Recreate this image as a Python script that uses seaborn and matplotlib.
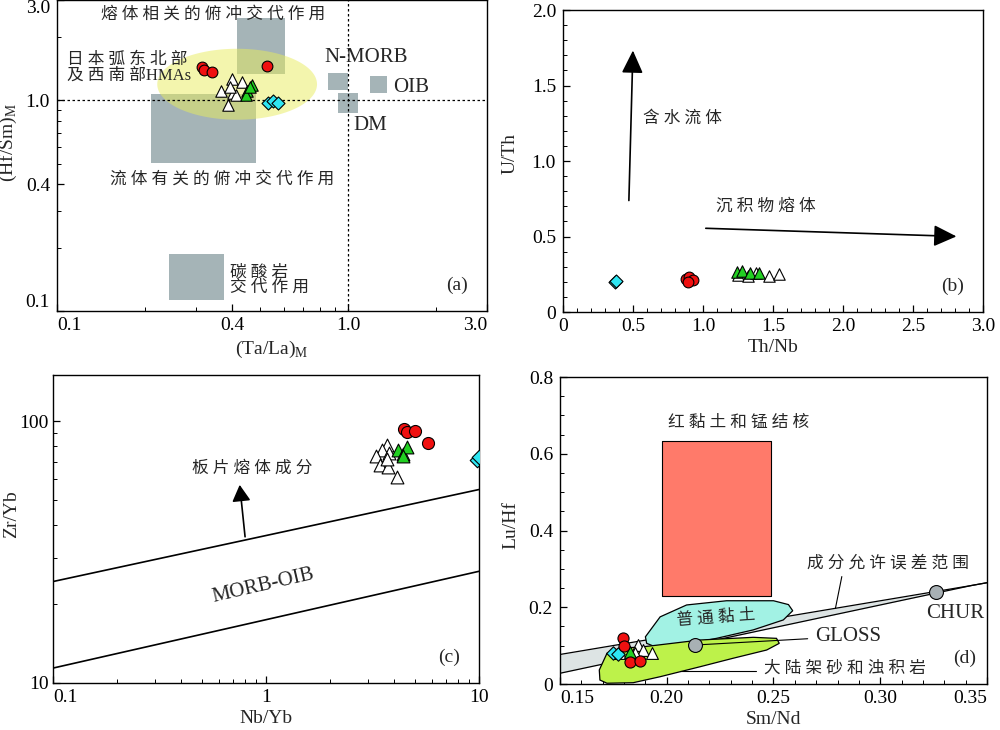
import numpy as np
import pandas as pd
import matplotlib
matplotlib.use('Agg')
import matplotlib.pyplot as plt
import seaborn as sns

sns.set_style('ticks')
plt.rcParams['font.family'] = ['Liberation Serif', 'Noto Sans CJK SC']
plt.rcParams['mathtext.fontset'] = 'custom'
plt.rcParams['mathtext.rm'] = 'Liberation Serif'
plt.rcParams['xtick.direction'] = 'in'
plt.rcParams['ytick.direction'] = 'in'
plt.rcParams['axes.edgecolor'] = 'black'
plt.rcParams['axes.linewidth'] = 1.0
plt.rcParams['xtick.color'] = 'black'
plt.rcParams['ytick.color'] = 'black'

# ---- sample groups (same in every panel)
groups = ['white', 'green', 'cyan', 'red']
markers = {'white': '^', 'green': '^', 'cyan': 'D', 'red': 'o'}
colors = {'white': 'white', 'green': '#22D022', 'cyan': '#2EE6F2', 'red': '#F01010'}
sizes = {'white': 85, 'green': 85, 'cyan': 55, 'red': 75}

# ---- (a) (Ta/La)M vs (Hf/Sm)M
a_red_x = [0.314, 0.320, 0.342, 0.526]
a_red_y = [1.44, 1.39, 1.36, 1.45]
a_white_x = [0.398, 0.431, 0.366, 0.403, 0.411, 0.386, 0.393]
a_white_y = [1.27, 1.23, 1.11, 1.09, 1.06, 0.95, 1.16]
a_green_x = [0.467, 0.449, 0.446, 0.460]
a_green_y = [1.18, 1.11, 1.06, 1.16]
a_cyan_x = [0.532, 0.552, 0.573]
a_cyan_y = [0.97, 0.99, 0.97]

# reference boxes: x0, x1, y0, y1
a_box_names = ['melt', 'fluid', 'carbonate', 'N-MORB', 'OIB', 'DM']
a_box_x0 = [0.415, 0.210, 0.242, 0.856, 1.19, 0.926]
a_box_x1 = [0.607, 0.482, 0.375, 1.00, 1.36, 1.085]
a_box_y0 = [1.33, 0.505, 0.113, 1.12, 1.08, 0.875]
a_box_y1 = [2.47, 1.07, 0.186, 1.35, 1.30, 1.08]

# HMAs field (ellipse in log space): x range, y range
hma_x = [0.221, 0.782]
hma_y = [0.81, 1.76]

# ---- (b) Th/Nb vs U/Th
b_red_x = [0.88, 0.90, 0.93, 0.89]
b_red_y = [0.22, 0.23, 0.21, 0.20]
b_white_x = [1.25, 1.32, 1.38, 1.47, 1.545]
b_white_y = [0.245, 0.24, 0.255, 0.24, 0.25]
b_green_x = [1.245, 1.28, 1.336, 1.40]
b_green_y = [0.265, 0.27, 0.26, 0.255]
b_cyan_x = [0.37, 0.38]
b_cyan_y = [0.20, 0.205]
b_fluid_arrow = [(0.47, 0.72), (0.50, 1.75)]
b_melt_arrow = [(1.0, 0.555), (2.83, 0.50)]

# ---- (c) Nb/Yb vs Zr/Yb
c_red_x = [4.45, 4.58, 5.01, 5.78]
c_red_y = [93.1, 91.0, 91.8, 82.8]
c_white_x = [3.69, 3.49, 3.28, 3.79, 3.43, 3.75, 4.11, 3.69]
c_white_y = [80.9, 77.6, 73.3, 75.3, 67.8, 67.0, 61.4, 71.5]
c_green_x = [4.18, 4.41, 4.60, 4.40]
c_green_y = [77.6, 74.8, 79.3, 73.6]
c_cyan_x = [9.75, 9.95]
c_cyan_y = [71.0, 72.8]
c_line_x = [0.1, 10]
c_upper_y = [24.4, 54.8]
c_lower_y = [11.4, 26.7]
c_arrow = [(0.80, 35.3), (0.75, 58.5)]

# ---- (d) Sm/Nd vs Lu/Hf
d_red_x = [0.1797, 0.180, 0.1828, 0.1875]
d_red_y = [0.119, 0.099, 0.058, 0.061]
d_white_x = [0.1867, 0.189, 0.193, 0.178, 0.185]
d_white_y = [0.1016, 0.0886, 0.080, 0.080, 0.080]
d_green_x = [0.1828]
d_green_y = [0.084]
d_cyan_x = [0.175, 0.1773]
d_cyan_y = [0.082, 0.078]

d_redclay = [0.198, 0.249, 0.229, 0.633]
d_band_x = [0.15, 0.343, 0.35]
d_band_upper = [0.077, 0.257, 0.264]
d_band_lower = [0.028, 0.257, 0.264]
d_clay_x = [0.190, 0.1969, 0.2093, 0.228, 0.250, 0.257, 0.259, 0.2546, 0.2405, 0.2233,
            0.2063, 0.1937, 0.1906]
d_clay_y = [0.123, 0.175, 0.206, 0.217, 0.217, 0.207, 0.191, 0.167, 0.141, 0.119,
            0.1016, 0.099, 0.106]
d_sand_x = [0.1687, 0.1684, 0.172, 0.178, 0.189, 0.2156, 0.2405, 0.2514, 0.2527, 0.2468,
            0.231, 0.2156, 0.1969, 0.1843, 0.172]
d_sand_y = [0.0104, 0.0365, 0.080, 0.093, 0.097, 0.1147, 0.1217, 0.119, 0.106, 0.0886,
            0.067, 0.045, 0.019, 0.0034, 0.002]
d_chur = (0.326, 0.239)
d_gloss = (0.2132, 0.1016)


def spaced(s):
    # the original sets Chinese labels with loose letter spacing
    out = ''
    for i, ch in enumerate(s):
        out += ch
        if i < len(s) - 1 and ord(ch) > 0x2e80 and ord(s[i + 1]) > 0x2e80:
            out += ' '
    return out


def make_df(data):
    rows = []
    for g, (xs, ys) in data.items():
        for x, y in zip(xs, ys):
            rows.append({'group': g, 'x': x, 'y': y})
    return pd.DataFrame(rows)


def draw_points(ax, df, scale=1.0):
    for i, g in enumerate(groups):
        sub = df[df.group == g]
        if len(sub) == 0:
            continue
        sns.scatterplot(data=sub, x='x', y='y', marker=markers[g], color=colors[g],
                        edgecolor='black', linewidth=0.8, s=sizes[g] * scale,
                        ax=ax, zorder=10 + i, legend=False)


def style_axes(ax):
    ax.tick_params(which='major', length=5, width=0.9, labelsize=14, top=False, right=False)
    ax.tick_params(axis='y', which='major', pad=5)
    ax.tick_params(axis='x', which='major', pad=4)
    ax.tick_params(which='minor', length=3, width=0.7)
    for s in ax.spines.values():
        s.set_visible(True)
        s.set_linewidth(1.0)


fs = 12
lfs = 14

fig = plt.figure(figsize=(10, 7.3), dpi=100)
ax_a = fig.add_axes([0.057, 0.574, 0.430, 0.426])
ax_b = fig.add_axes([0.563, 0.5726, 0.420, 0.4137])
ax_c = fig.add_axes([0.053, 0.0644, 0.426, 0.4219])
ax_d = fig.add_axes([0.560, 0.063, 0.427, 0.4205])

# ================= (a)
ax = ax_a
ax.set_xscale('log')
ax.set_yscale('log')
for x0, x1, y0, y1 in zip(a_box_x0, a_box_x1, a_box_y0, a_box_y1):
    ax.fill_between([x0, x1], y0, y1, color='#A5B4B7', lw=0, zorder=1)
t = np.linspace(0, 2 * np.pi, 200)
lx = np.log10(hma_x)
ly = np.log10(hma_y)
ex = 10 ** (lx.mean() + (lx[1] - lx[0]) / 2 * np.cos(t))
ey = 10 ** (ly.mean() + (ly[1] - ly[0]) / 2 * np.sin(t))
ax.fill(ex, ey, color='#E8EC5C', alpha=0.5, lw=0, zorder=2)
ax.axhline(1.0, color='black', ls=(0, (2, 2)), lw=0.9, zorder=3)
ax.axvline(1.0, color='black', ls=(0, (2, 2)), lw=0.9, zorder=3)
df_a = make_df({'red': (a_red_x, a_red_y), 'white': (a_white_x, a_white_y),
                'green': (a_green_x, a_green_y), 'cyan': (a_cyan_x, a_cyan_y)})
draw_points(ax, df_a, 0.8)
ax.set_xlim(0.1, 3.0)
ax.set_ylim(0.1, 3.0)
ax.set_xticks([0.1, 0.4, 1.0, 3.0])
ax.set_xticklabels(['0.1', '0.4', '1.0', '3.0'])
ax.set_yticks([0.1, 0.4, 1.0, 3.0])
ax.set_yticklabels(['0.1', '0.4', '1.0', '3.0'])
style_axes(ax)
ax.set_xlabel('(Ta/La)$_\\mathregular{M}$', fontsize=lfs, labelpad=4)
ax.set_ylabel('(Hf/Sm)$_\\mathregular{M}$', fontsize=lfs)
ax.yaxis.set_label_coords(-0.088, 0.54)
ax.text(0.343, 2.56, spaced('熔体相关的俯冲交代作用'), fontsize=fs, ha='center', va='center', zorder=20)
ax.text(0.108, 1.43, spaced('日本弧东北部') + '\n' + spaced('及西南部') + 'HMAs', fontsize=fs,
        ha='left', va='center', linespacing=1.0, zorder=20)
ax.text(1.15, 1.60, 'N-MORB', fontsize=15, ha='center', va='center', zorder=20)
ax.text(1.43, 1.15, 'OIB', fontsize=15, ha='left', va='center', zorder=20)
ax.text(1.04, 0.76, 'DM', fontsize=15, ha='left', va='center', zorder=20)
ax.text(0.369, 0.422, spaced('流体有关的俯冲交代作用'), fontsize=fs, ha='center', va='center', zorder=20)
ax.text(0.394, 0.140, spaced('碳酸岩') + '\n' + spaced('交代作用'), fontsize=fs, ha='left',
        va='center', linespacing=1.0, zorder=20)
ax.text(0.955, 0.055, '(a)', transform=ax.transAxes, fontsize=14, ha='right', va='bottom')

# ================= (b)
ax = ax_b
df_b = make_df({'red': (b_red_x, b_red_y), 'white': (b_white_x, b_white_y),
                'green': (b_green_x, b_green_y), 'cyan': (b_cyan_x, b_cyan_y)})
draw_points(ax, df_b, 0.8)
ax.annotate('', xy=b_fluid_arrow[1], xytext=b_fluid_arrow[0],
            arrowprops=dict(arrowstyle='-|>,head_length=0.7,head_width=0.33',
                            mutation_scale=20, color='black', lw=1.2))
ax.annotate('', xy=b_melt_arrow[1], xytext=b_melt_arrow[0],
            arrowprops=dict(arrowstyle='-|>,head_length=0.7,head_width=0.33',
                            mutation_scale=20, color='black', lw=1.2))
ax.text(0.57, 1.28, spaced('含水流体'), fontsize=fs, ha='left', va='center')
ax.text(1.09, 0.70, spaced('沉积物熔体'), fontsize=fs, ha='left', va='center')
ax.set_xlim(0, 3.0)
ax.set_ylim(0, 2.0)
ax.set_xticks(np.arange(0, 3.01, 0.5))
ax.set_xticklabels(['0', '0.5', '1.0', '1.5', '2.0', '2.5', '3.0'])
ax.set_yticks(np.arange(0, 2.01, 0.5))
ax.set_yticklabels(['0', '0.5', '1.0', '1.5', '2.0'])
ax.set_xticks(np.arange(0, 3.01, 0.1), minor=True)
ax.set_yticks(np.arange(0, 2.01, 0.1), minor=True)
style_axes(ax)
ax.set_xlabel('Th/Nb', fontsize=lfs, labelpad=3)
ax.set_ylabel('U/Th', fontsize=lfs)
ax.yaxis.set_label_coords(-0.105, 0.526)
ax.text(0.955, 0.055, '(b)', transform=ax.transAxes, fontsize=14, ha='right', va='bottom')

# ================= (c)
ax = ax_c
ax.set_xscale('log')
ax.set_yscale('log')
ax.plot(c_line_x, c_upper_y, color='black', lw=1.2)
ax.plot(c_line_x, c_lower_y, color='black', lw=1.2)
ax.annotate('', xy=c_arrow[1], xytext=c_arrow[0],
            arrowprops=dict(arrowstyle='-|>,head_length=0.5,head_width=0.28',
                            mutation_scale=20, color='black', lw=1.2))
df_c = make_df({'red': (c_red_x, c_red_y), 'white': (c_white_x, c_white_y),
                'green': (c_green_x, c_green_y), 'cyan': (c_cyan_x, c_cyan_y)})
draw_points(ax, df_c, 1.0)
ax.text(0.86, 65.5, spaced('板片熔体成分'), fontsize=fs, ha='center', va='center')
ax.text(0.97, 23.4, 'MORB-OIB', fontsize=15, ha='center', va='center', rotation=13)
ax.set_xlim(0.1, 10)
ax.set_ylim(10, 150)
ax.set_xticks([0.1, 1, 10])
ax.set_xticklabels(['0.1', '1', '10'])
ax.set_yticks([10, 100])
ax.set_yticklabels(['10', '100'])
style_axes(ax)
ax.tick_params(axis='y', which='major', pad=3)
ax.set_xlabel('Nb/Yb', fontsize=lfs, labelpad=3)
ax.set_ylabel('Zr/Yb', fontsize=lfs)
ax.yaxis.set_label_coords(-0.078, 0.549)
ax.text(0.955, 0.055, '(c)', transform=ax.transAxes, fontsize=14, ha='right', va='bottom')

# ================= (d)
ax = ax_d
ax.fill_between(d_band_x, d_band_lower, d_band_upper, color='#DDE4E4', lw=0, zorder=1)
ax.plot(d_band_x, d_band_upper, color='black', lw=0.9, zorder=2)
ax.plot(d_band_x, d_band_lower, color='black', lw=0.9, zorder=2)
x0, x1, y0, y1 = d_redclay
ax.fill_between([x0, x1], y0, y1, facecolor='#FF7A6A', edgecolor='black', lw=0.8, zorder=3)
ax.fill(d_clay_x, d_clay_y, facecolor='#A2F2E4', edgecolor='black', lw=0.9, zorder=4)
ax.fill(d_sand_x, d_sand_y, facecolor='#BDF24A', edgecolor='black', lw=0.9, zorder=5)
ax.plot([d_gloss[0], 0.266], [d_gloss[1], 0.118], color='black', lw=0.8, zorder=6)
ax.plot([0.2062, 0.242], [0.0347, 0.0347], color='black', lw=0.8, zorder=6)
ax.plot([0.282, 0.279], [0.28, 0.197], color='black', lw=0.8, zorder=6)
ax.scatter([d_chur[0], d_gloss[0]], [d_chur[1], d_gloss[1]], s=100, color='#A8B0B4',
           edgecolor='black', linewidth=0.8, zorder=7)
df_d = make_df({'red': (d_red_x, d_red_y), 'white': (d_white_x, d_white_y),
                'green': (d_green_x, d_green_y), 'cyan': (d_cyan_x, d_cyan_y)})
draw_points(ax, df_d, 0.85)
ax.text(0.2005, 0.68, spaced('红黏土和锰结核'), fontsize=fs, ha='left', va='center')
ax.text(0.2657, 0.314, spaced('成分允许误差范围'), fontsize=fs, ha='left', va='center')
ax.text(0.2045, 0.172, spaced('普通黏土'), fontsize=fs, ha='left', va='center', rotation=4, zorder=8)
ax.text(0.2694, 0.123, 'GLOSS', fontsize=15, ha='left', va='center')
ax.text(0.3214, 0.184, 'CHUR', fontsize=15, ha='left', va='center')
ax.text(0.2455, 0.040, spaced('大陆架砂和浊积岩'), fontsize=fs, ha='left', va='center')
ax.set_xlim(0.15, 0.35)
ax.set_ylim(0, 0.8)
ax.set_xticks([0.15, 0.20, 0.25, 0.30, 0.35])
ax.set_xticklabels(['0.15', '0.20', '0.25', '0.30', '0.35'])
ax.set_yticks([0, 0.2, 0.4, 0.6, 0.8])
ax.set_yticklabels(['0', '0.2', '0.4', '0.6', '0.8'])
ax.set_xticks(np.arange(0.15, 0.351, 0.01), minor=True)
ax.set_yticks(np.arange(0, 0.801, 0.05), minor=True)
style_axes(ax)
ax.set_xlabel('Sm/Nd', fontsize=lfs, labelpad=3)
ax.set_ylabel('Lu/Hf', fontsize=lfs)
ax.yaxis.set_label_coords(-0.094, 0.518)
ax.text(0.975, 0.055, '(d)', transform=ax.transAxes, fontsize=14, ha='right', va='bottom')

# nudge edge tick labels inside the figure like the original
fig.canvas.draw()
yl = ax_a.get_yticklabels()
yl[-1].set_va('top')
yl[0].set_va('bottom')
xl = ax_a.get_xticklabels()
xl[0].set_ha('left')
xl[-1].set_ha('right')
ax_c.get_xticklabels()[0].set_ha('left')
ax_d.get_xticklabels()[0].set_ha('left')
ax_d.get_xticklabels()[-1].set_ha('right')

fig.savefig('out.png', dpi=100)
